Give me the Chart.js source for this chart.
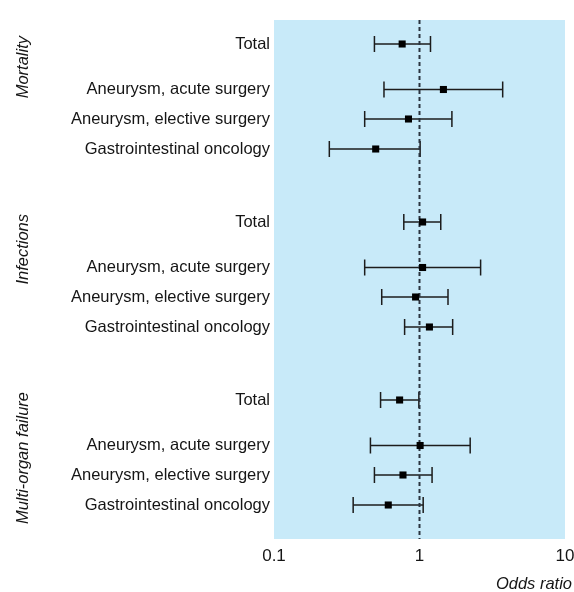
<!DOCTYPE html>
<html><head><meta charset="utf-8">
<script src="https://cdn.jsdelivr.net/npm/chart.js@4"></script>
<style>html,body{margin:0;padding:0;background:#fff}#wrap{width:574px;height:592px}</style>
</head><body><div id="wrap"><canvas id="c" width="574" height="592"></canvas></div>
<script>
// ---- data ----
const groups = ['Mortality', 'Infections', 'Multi-organ failure'];
const subgroups = ['Total', 'Aneurysm, acute surgery', 'Aneurysm, elective surgery', 'Gastrointestinal oncology'];
const mortalityOR   = [0.76, 1.46, 0.84, 0.50];
const mortalityLow  = [0.49, 0.57, 0.42, 0.24];
const mortalityHigh = [1.19, 3.73, 1.67, 1.01];
const infectionsOR   = [1.05, 1.05, 0.94, 1.17];
const infectionsLow  = [0.78, 0.42, 0.55, 0.79];
const infectionsHigh = [1.40, 2.63, 1.57, 1.69];
const mofOR   = [0.73, 1.01, 0.77, 0.61];
const mofLow  = [0.54, 0.46, 0.49, 0.35];
const mofHigh = [0.99, 2.23, 1.22, 1.06];
const xTickValues = [0.1, 1, 10];
const xTitle = 'Odds ratio';

// ---- layout (not data) ----
const GROUP_STEP = 178;
const ROW_OFFSETS = [0, 45.5, 75, 105];
const FONT = "'Liberation Sans', Arial, sans-serif";
const FSIZE = 16.5;
const TXT = '#151515';

const seriesOR = [mortalityOR, infectionsOR, mofOR];
const seriesLo = [mortalityLow, infectionsLow, mofLow];
const seriesHi = [mortalityHigh, infectionsHigh, mofHigh];

const rows = [];
groups.forEach((g, gi) => {
  subgroups.forEach((s, si) => {
    rows.push({ label: s, group: gi, y: gi * GROUP_STEP + ROW_OFFSETS[si],
      or: seriesOR[gi][si], lo: seriesLo[gi][si], hi: seriesHi[gi][si] });
  });
});

const bgPlugin = {
  id: 'bg',
  beforeDraw(chart) {
    const { ctx, chartArea: a } = chart;
    ctx.save();
    ctx.fillStyle = '#c8eaf9';
    ctx.fillRect(a.left, a.top, a.right - a.left, a.bottom - a.top);
    ctx.restore();
  }
};

const forestPlugin = {
  id: 'forest',
  beforeDatasetsDraw(chart) {
    const { ctx, chartArea: a, scales: { x, y } } = chart;
    ctx.save();
    rows.forEach(r => {
      const py = y.getPixelForValue(r.y);
      const x1 = x.getPixelForValue(r.lo);
      const x2 = x.getPixelForValue(r.hi);
      ctx.strokeStyle = '#1c1c1c';
      ctx.lineWidth = 1.3;
      ctx.beginPath();
      ctx.moveTo(x1, py); ctx.lineTo(x2, py);
      ctx.stroke();
      ctx.lineWidth = 1.5;
      ctx.beginPath();
      ctx.moveTo(x1, py - 8); ctx.lineTo(x1, py + 8);
      ctx.moveTo(x2, py - 8); ctx.lineTo(x2, py + 8);
      ctx.stroke();
    });
    // reference line at OR = 1
    const px = x.getPixelForValue(1);
    ctx.strokeStyle = '#2a3440';
    ctx.lineWidth = 2;
    ctx.setLineDash([4, 3]);
    ctx.beginPath();
    ctx.moveTo(px, a.top); ctx.lineTo(px, a.bottom);
    ctx.stroke();
    ctx.restore();
  },
  afterDraw(chart) {
    const { ctx, scales: { y } } = chart;
    ctx.save();
    ctx.fillStyle = TXT;
    ctx.font = 'italic ' + FSIZE + 'px ' + FONT;
    groups.forEach((g, gi) => {
      const py = y.getPixelForValue(gi * GROUP_STEP) - 8;
      ctx.save();
      ctx.translate(28, py);
      ctx.rotate(-Math.PI / 2);
      ctx.textAlign = 'right';
      ctx.textBaseline = 'alphabetic';
      ctx.fillText(g, 0, 0);
      ctx.restore();
    });
    ctx.textAlign = 'right';
    ctx.textBaseline = 'alphabetic';
    ctx.fillText(xTitle, 572, 589);
    ctx.restore();
  }
};

new Chart(document.getElementById('c'), {
  type: 'scatter',
  data: {
    datasets: [{
      data: rows.map(r => ({ x: r.or, y: r.y })),
      pointStyle: 'rect',
      pointRadius: 5,
      pointHoverRadius: 5,
      backgroundColor: '#000',
      borderWidth: 0
    }]
  },
  options: {
    responsive: false,
    animation: false,
    devicePixelRatio: 1,
    layout: { padding: { top: 20, right: 9, left: 0, bottom: 0 } },
    plugins: { legend: { display: false }, tooltip: { enabled: false } },
    scales: {
      x: {
        type: 'logarithmic',
        min: 0.1, max: 10,
        afterBuildTicks(s) { s.ticks = xTickValues.map(v => ({ value: v })); },
        afterFit(s) { s.height = 53; s.paddingLeft = 0; s.paddingRight = 0; },
        grid: { display: false, drawTicks: false },
        border: { display: false },
        ticks: {
          color: TXT, padding: 7, maxRotation: 0, autoSkip: false,
          font: { family: FONT, size: 17 },
          callback: (v) => String(v)
        }
      },
      y: {
        type: 'linear',
        reverse: true,
        min: -24, max: 495,
        afterBuildTicks(s) { s.ticks = rows.map(r => ({ value: r.y })); },
        afterFit(s) { s.width = 274; s.paddingTop = 0; s.paddingBottom = 0; },
        grid: { display: false, drawTicks: false },
        border: { display: false },
        ticks: {
          color: TXT, padding: 4, autoSkip: false,
          font: { family: FONT, size: FSIZE },
          callback: (v, i) => rows[i] ? rows[i].label : ''
        }
      }
    }
  },
  plugins: [bgPlugin, forestPlugin]
});
</script>
</body></html>
